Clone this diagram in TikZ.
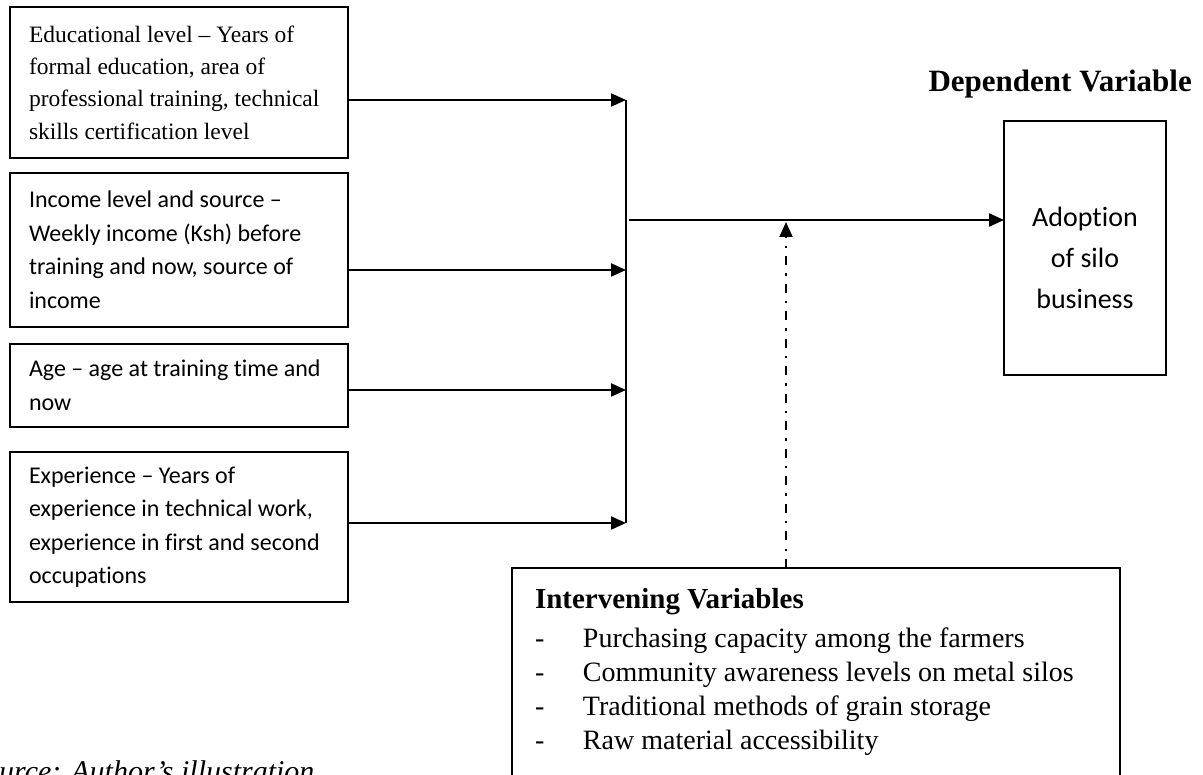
\documentclass[tikz,border=0pt]{standalone}
\usepackage{fontspec}
\setmainfont{Liberation Serif}
\newfontfamily\calibri[Ligatures=NoCommon]{Carlito}
\usetikzlibrary{arrows.meta}

\begin{document}
\begin{tikzpicture}[x=1pt,y=-1pt,
  varbox/.style={draw, line width=1.8pt, outer sep=0pt, anchor=north west, align=flush left,
    inner xsep=19pt, text width=300pt, minimum height=#1},
  calibox/.style={varbox=#1, font=\calibri\fontsize{24}{33.5}\selectfont},
  link/.style={line width=2.2pt, -{Triangle[length=15pt,width=13pt]}}]

\useasboundingbox (0,0) rectangle (1203,775);

% independent variables
\node[varbox=151pt, font=\fontsize{23.5}{32.3}\selectfont] (edu) at (10,7)
  {Educational level – Years of\\ formal education, area of\\ professional training, technical\\ skills certification level};
\node[calibox=154pt] (inc) at (10,173)
  {Income level and source –\\ Weekly income (Ksh) before\\ training and now, source of\\ income};
\node[calibox=83pt] (age) at (10,344)
  {Age – age at training time and\\ now};
\node[calibox=150pt] (exp) at (10,452)
  {Experience – Years of\\ experience in technical work,\\ experience in first and second\\ occupations};

% bus
\coordinate (b1) at (626,100);
\coordinate (b2) at (626,270);
\coordinate (b3) at (626,390);
\coordinate (b4) at (626,523);
\draw[line width=2pt] (b1) -- (b4);

\draw[link] (edu.east |- b1) -- (b1);
\draw[link] (inc.east |- b2) -- (b2);
\draw[link] (age.east |- b3) -- (b3);
\draw[link] (exp.east |- b4) -- (b4);

% dependent variable
\node[font=\bfseries\fontsize{31}{36}\selectfont, anchor=base east, inner sep=0pt] (deplabel) at (1192,92)
  {Dependent Variable};
\node[draw, line width=1.8pt, outer sep=0pt, anchor=north west, minimum width=162pt, minimum height=254pt,
  align=center, text height=122pt, font=\calibri\fontsize{28}{41}\selectfont] (dep) at (1004,121)
  {Adoption\\ of silo\\ business};

\coordinate (m) at (629,220);
\draw[link] (m) -- (dep.west |- m);

% intervening variables
\node[draw, line width=1.8pt, outer sep=0pt, anchor=north west, align=flush left, inner xsep=23pt, inner ysep=20pt,
  text width=562pt, text depth=205pt, font=\fontsize{28}{34}\selectfont] (inter) at (512,568)
  {{\bfseries\fontsize{29}{34}\selectfont Intervening Variables}\\[5pt]
   \makebox[48pt][l]{-}Purchasing capacity among the farmers\\
   \makebox[48pt][l]{-}Community awareness levels on metal silos\\
   \makebox[48pt][l]{-}Traditional methods of grain storage\\
   \makebox[48pt][l]{-}Raw material accessibility};

\coordinate (hit) at (786,222);
\draw[link, line width=2pt, dash pattern=on 9pt off 8pt on 2.5pt off 8pt] (inter.north -| hit) -- (hit);

\node[font=\itshape\fontsize{30}{36}\selectfont, anchor=base west, inner sep=0pt] (src) at (-31,781)
  {Source: Author’s illustration};
\end{tikzpicture}
\end{document}
